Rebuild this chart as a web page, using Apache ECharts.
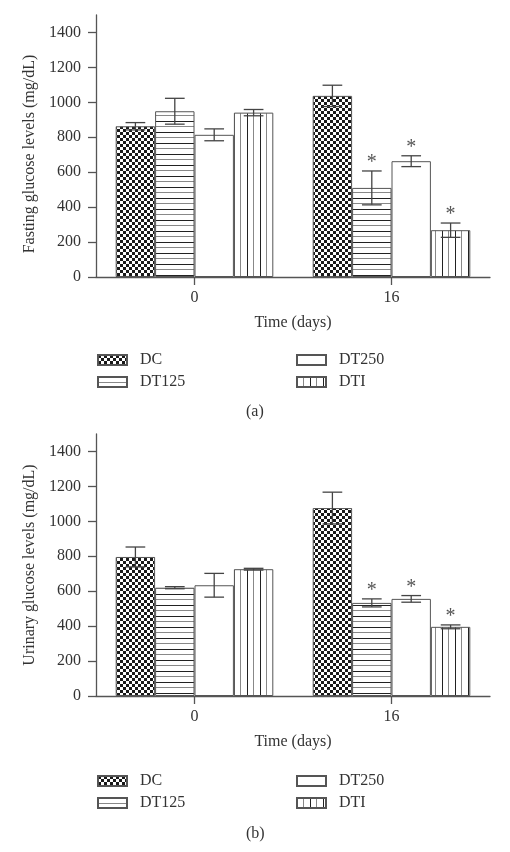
<!DOCTYPE html>
<html>
<head>
<meta charset="utf-8">
<script src="https://cdn.jsdelivr.net/npm/echarts@6/dist/echarts.min.js"></script>
<style>html,body{margin:0;padding:0;background:#fff}#c{width:510px;height:852px}</style>
</head>
<body>
<div id="c"></div>
<script>
// ---- data ----
const categories = ['0', '16'];
const seriesNames = ['DC', 'DT125', 'DT250', 'DTI'];
const yTicks = [0, 200, 400, 600, 800, 1000, 1200, 1400];

// (a) Fasting glucose levels (mg/dL)
const fastingDC = [863, 1037];
const fastingDT125 = [949, 510];
const fastingDT250 = [814, 663];
const fastingDTI = [941, 268];
const fastingErrDC = [21, 61];
const fastingErrDT125 = [74, 97];
const fastingErrDT250 = [34, 31];
const fastingErrDTI = [18, 41];
const fastingStarDC = [0, 0];
const fastingStarDT125 = [0, 1];
const fastingStarDT250 = [0, 1];
const fastingStarDTI = [0, 1];

// (b) Urinary glucose levels (mg/dL)
const urinaryDC = [796, 1076];
const urinaryDT125 = [620, 533];
const urinaryDT250 = [634, 556];
const urinaryDTI = [726, 396];
const urinaryErrDC = [57, 91];
const urinaryErrDT125 = [6, 23];
const urinaryErrDT250 = [68, 19];
const urinaryErrDTI = [5, 11];
const urinaryStarDC = [0, 0];
const urinaryStarDT125 = [0, 1];
const urinaryStarDT250 = [0, 1];
const urinaryStarDTI = [0, 1];

// ---- patterns ----
function tile(w, h, draw) {
  const c = document.createElement('canvas');
  c.width = w; c.height = h;
  const ctx = c.getContext('2d');
  ctx.fillStyle = '#fff'; ctx.fillRect(0, 0, w, h);
  draw(ctx);
  return { image: c, repeat: 'repeat' };
}
const patChecker = tile(6, 6, ctx => { ctx.fillStyle = '#1a1a1a'; ctx.fillRect(0, 0, 3, 3); ctx.fillRect(3, 3, 3, 3); });
const patH = tile(4, 11, ctx => { ctx.fillStyle = '#222'; ctx.fillRect(0, 0, 4, 1); ctx.fillStyle = '#888'; ctx.fillRect(0, 5, 4, 1); });
const patV = tile(13, 4, ctx => { ctx.fillStyle = '#222'; ctx.fillRect(0, 0, 1, 4); ctx.fillStyle = '#888'; ctx.fillRect(6, 0, 1, 4); });
const patWhite = '#ffffff';
const fills = [patChecker, patH, patWhite, patV];

const FONT = 'Liberation Serif';
const TXT = '#333';
const AX = '#555';
const FS = 16;

const grids = [
  { left: 96, top: 15, width: 394, height: 262 },
  { left: 96, top: 434, width: 394, height: 262 }
];

function xAxis(gi) {
  return {
    type: 'category', gridIndex: gi, data: categories,
    name: 'Time (days)', nameLocation: 'middle', nameGap: 38,
    nameTextStyle: { fontFamily: FONT, fontSize: FS, color: TXT },
    axisLine: { show: true, lineStyle: { color: AX, width: 1.3 } },
    axisTick: { show: true, alignWithLabel: true, length: 8, lineStyle: { color: AX, width: 1.3 } },
    axisLabel: { fontFamily: FONT, fontSize: FS, color: TXT, margin: 13 },
    splitLine: { show: false }
  };
}
function yAxis(gi, name, pad) {
  return {
    type: 'value', gridIndex: gi, min: 0, max: 1500, interval: 100,
    name: name, nameLocation: 'middle', nameGap: 58,
    nameTextStyle: { fontFamily: FONT, fontSize: FS, color: TXT, padding: pad },
    axisLine: { show: true, lineStyle: { color: AX, width: 1.3 } },
    axisTick: { show: true, length: 8, customValues: yTicks, lineStyle: { color: AX, width: 1.3 } },
    axisLabel: { fontFamily: FONT, fontSize: FS, color: TXT, margin: 15, customValues: yTicks,
      formatter: v => String(v) },
    splitLine: { show: false }
  };
}

function barSeries(gi, values) {
  return values.map((v, i) => ({
    type: 'bar', name: seriesNames[i], xAxisIndex: gi, yAxisIndex: gi,
    data: v, barGap: '0%', barCategoryGap: '20%',
    itemStyle: { color: fills[i], borderColor: '#555', borderWidth: 1 },
    emphasis: { disabled: true }, silent: true, z: 2
  }));
}

function errSeries(gi, values, errs, stars) {
  const data = [];
  values.forEach((v, si) => v.forEach((val, ci) => data.push([ci, val, errs[si][ci], si, stars[si][ci]])));
  return {
    type: 'custom', xAxisIndex: gi, yAxisIndex: gi, data: data, z: 5, silent: true,
    encode: { x: 0, y: 1 },
    renderItem: function (params, api) {
      const ci = api.value(0), val = api.value(1), err = api.value(2), si = api.value(3), star = api.value(4);
      const band = api.size([1, 0])[0];
      const bw = band * 0.8 / 4;
      const x = api.coord([ci, val])[0] + (si - 1.5) * bw;
      const top = api.coord([ci, val + err])[1];
      const bot = api.coord([ci, val - err])[1];
      const half = bw * 0.25;
      const st = { stroke: '#444', lineWidth: 1.3 };
      const children = [
        { type: 'line', shape: { x1: x, y1: top, x2: x, y2: bot }, style: st },
        { type: 'line', shape: { x1: x - half, y1: top, x2: x + half, y2: top }, style: st },
        { type: 'line', shape: { x1: x - half, y1: bot, x2: x + half, y2: bot }, style: st }
      ];
      if (star) {
        children.push({ type: 'text', x: x, y: top + 2,
          style: { text: '*', fontFamily: FONT, fontSize: 20, fill: '#555', align: 'center', verticalAlign: 'bottom' } });
      }
      return { type: 'group', children: children };
    }
  };
}

function legends(top) {
  const common = {
    orient: 'vertical', top: top, padding: 0, itemWidth: 29, itemHeight: 10, itemGap: 6,
    selectedMode: false, icon: 'rect',
    textStyle: { fontFamily: FONT, fontSize: FS, color: TXT, padding: [0, 0, 0, 8] }
  };
  return [
    Object.assign({}, common, { left: 97, data: ['DC', 'DT125'] }),
    Object.assign({}, common, { left: 296, data: ['DT250', 'DTI'] })
  ];
}

const fastVals = [fastingDC, fastingDT125, fastingDT250, fastingDTI];
const fastErrs = [fastingErrDC, fastingErrDT125, fastingErrDT250, fastingErrDTI];
const fastStars = [fastingStarDC, fastingStarDT125, fastingStarDT250, fastingStarDTI];
const urVals = [urinaryDC, urinaryDT125, urinaryDT250, urinaryDTI];
const urErrs = [urinaryErrDC, urinaryErrDT125, urinaryErrDT250, urinaryErrDTI];
const urStars = [urinaryStarDC, urinaryStarDT125, urinaryStarDT250, urinaryStarDTI];

const chart = echarts.init(document.getElementById('c'), null, { renderer: 'canvas' });
chart.setOption({
  animation: false,
  backgroundColor: '#fff',
  title: [
    { text: '(a)', left: 241, top: 399, textStyle: { fontFamily: FONT, fontSize: FS, fontWeight: 'normal', color: TXT } },
    { text: '(b)', left: 241, top: 821, textStyle: { fontFamily: FONT, fontSize: FS, fontWeight: 'normal', color: TXT } }
  ],
  grid: grids,
  xAxis: [xAxis(0), xAxis(1)],
  yAxis: [yAxis(0, 'Fasting glucose levels (mg/dL)', [0, 16, 0, 0]), yAxis(1, 'Urinary glucose levels (mg/dL)', [0, 0, 0, 0])],
  legend: legends(352).concat(legends(773)),
  series: barSeries(0, fastVals).concat(barSeries(1, urVals))
    .concat([errSeries(0, fastVals, fastErrs, fastStars), errSeries(1, urVals, urErrs, urStars)])
});
</script>
</body>
</html>
